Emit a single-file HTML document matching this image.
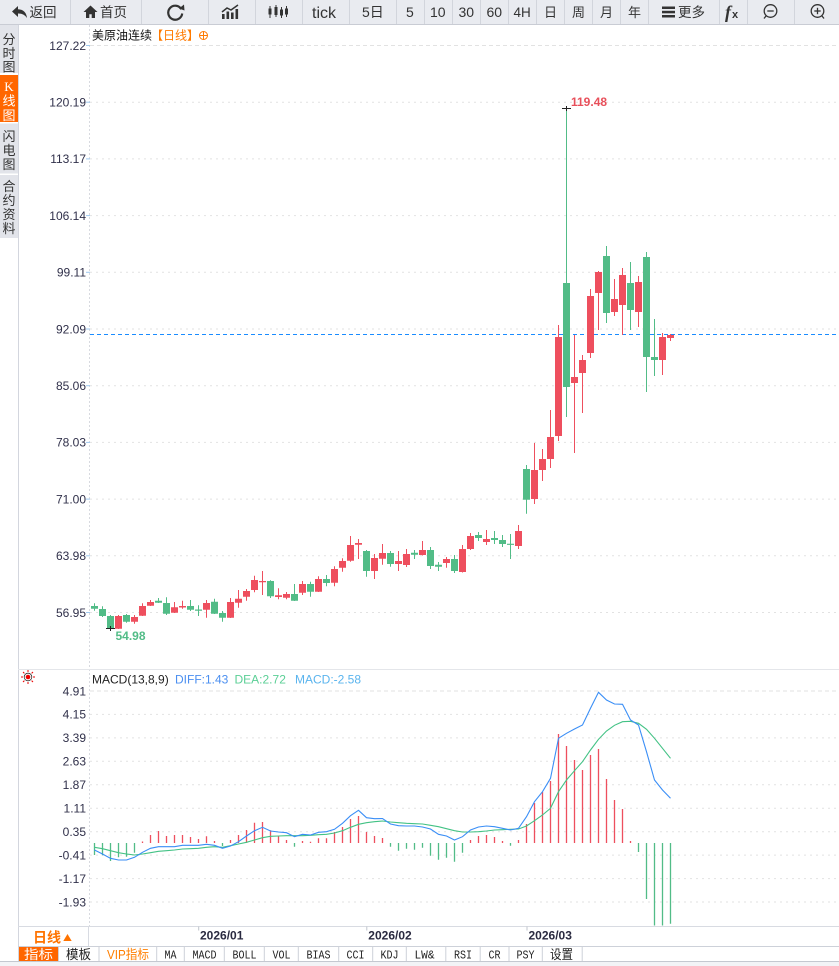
<!DOCTYPE html>
<html><head><meta charset="utf-8"><style>
html,body{margin:0;padding:0;background:#fff;}
body{width:839px;height:966px;overflow:hidden;}
svg{display:block;}
</style></head><body>
<svg width="839" height="966" viewBox="0 0 839 966" xmlns="http://www.w3.org/2000/svg" font-family="'Liberation Sans','Noto Sans CJK SC',sans-serif">
<rect x="0" y="0" width="839" height="966" fill="#fff"/>
<!-- Toolbar -->
<rect x="0" y="0" width="839" height="24" fill="#e9ebf0"/>
<line x1="0" y1="24.5" x2="839" y2="24.5" stroke="#c9ccd4"/>
<g stroke="#d2d5dc" stroke-width="1">
<line x1="70.5" y1="0" x2="70.5" y2="24"/><line x1="141.5" y1="0" x2="141.5" y2="24"/><line x1="208.5" y1="0" x2="208.5" y2="24"/><line x1="255.5" y1="0" x2="255.5" y2="24"/><line x1="302.5" y1="0" x2="302.5" y2="24"/><line x1="349.5" y1="0" x2="349.5" y2="24"/><line x1="396.5" y1="0" x2="396.5" y2="24"/><line x1="424.5" y1="0" x2="424.5" y2="24"/><line x1="452.5" y1="0" x2="452.5" y2="24"/><line x1="480.5" y1="0" x2="480.5" y2="24"/><line x1="508.5" y1="0" x2="508.5" y2="24"/><line x1="536.5" y1="0" x2="536.5" y2="24"/><line x1="564.5" y1="0" x2="564.5" y2="24"/><line x1="592.5" y1="0" x2="592.5" y2="24"/><line x1="620.5" y1="0" x2="620.5" y2="24"/><line x1="648.5" y1="0" x2="648.5" y2="24"/><line x1="719.5" y1="0" x2="719.5" y2="24"/><line x1="747.5" y1="0" x2="747.5" y2="24"/><line x1="794.5" y1="0" x2="794.5" y2="24"/>
</g>
<!-- icons -->
<path d="M18,6 L12,11.5 L18,17 L18,13.5 Q24,13.3 27,18 Q26,9.5 18,9.2 Z" fill="#333"/>
<path d="M90.5,5.5 L83.5,12 H86 V18 H89.3 V14.2 H91.7 V18 H95 V12 H97.5 Z" fill="#333"/>
<path d="M181.3,9.2 A7,7 0 1 0 182.2,13.5" fill="none" stroke="#333" stroke-width="2.2"/>
<path d="M179,8.5 L184,4.5 L184.5,10.5 Z" fill="#333"/>
<g fill="#333"><rect x="222" y="14" width="2.6" height="5"/><rect x="226.5" y="11.5" width="2.6" height="7.5"/><rect x="231" y="12.5" width="2.6" height="6.5"/><rect x="235.5" y="9" width="2.6" height="10"/></g>
<path d="M222,12 L227,8 L231,10 L238,5" fill="none" stroke="#333" stroke-width="1.5"/>
<g fill="#333" stroke="#333"><line x1="270" y1="6" x2="270" y2="18"/><rect x="268.5" y="8.5" width="3" height="6" stroke="none"/><line x1="276" y1="5" x2="276" y2="17"/><rect x="274.5" y="7" width="3" height="8" stroke="none"/><line x1="281.5" y1="7" x2="281.5" y2="18"/><rect x="280" y="9.5" width="3" height="6" stroke="none"/><line x1="286.5" y1="6" x2="286.5" y2="17"/><rect x="285" y="8.5" width="3" height="6" stroke="none"/></g>
<g fill="#333"><rect x="662" y="6.5" width="13" height="2.5"/><rect x="662" y="10.8" width="13" height="2.5"/><rect x="662" y="15" width="13" height="2.5"/></g>
<text x="725" y="18" font-family="'Liberation Serif',serif" font-style="italic" font-weight="bold" font-size="18" fill="#333">f</text>
<text x="732" y="18" font-weight="bold" font-size="11" fill="#333">x</text>
<circle cx="770.5" cy="11" r="6.3" fill="none" stroke="#333" stroke-width="1.3"/><line x1="767.3" y1="11" x2="773.7" y2="11" stroke="#333" stroke-width="1.3"/><line x1="766" y1="16" x2="764" y2="18.5" stroke="#333" stroke-width="1.3"/>
<circle cx="817.5" cy="11" r="6.3" fill="none" stroke="#333" stroke-width="1.3"/><line x1="814.3" y1="11" x2="820.7" y2="11" stroke="#333" stroke-width="1.3"/><line x1="817.5" y1="7.8" x2="817.5" y2="14.2" stroke="#333" stroke-width="1.3"/><line x1="822" y1="16" x2="824" y2="18.5" stroke="#333" stroke-width="1.3"/>
<g fill="#333" font-size="13.5">
<text x="29.5" y="17">返回</text>
<text x="100" y="17">首页</text>
<text x="312" y="18" font-size="16">tick</text>
<text x="362" y="17" font-size="14">5日</text>
<text x="406" y="17" font-size="14">5</text>
<text x="430" y="17" font-size="14">10</text>
<text x="458.5" y="17" font-size="14">30</text>
<text x="486.5" y="17" font-size="14">60</text>
<text x="513.5" y="17" font-size="13.5">4H</text>
<text x="544" y="17" font-size="13">日</text>
<text x="572" y="17" font-size="13">周</text>
<text x="600" y="17" font-size="13">月</text>
<text x="628" y="17" font-size="13">年</text>
<text x="678" y="17">更多</text>
</g>
<!-- Left sidebar -->
<rect x="0" y="25" width="18" height="48" fill="#e2e4ea"/>
<rect x="0" y="75" width="18" height="47" fill="#ff6600"/>
<rect x="0" y="123.5" width="18" height="50" fill="#e2e4ea"/>
<rect x="0" y="175" width="18" height="63" fill="#e2e4ea"/>
<line x1="18.5" y1="25" x2="18.5" y2="962" stroke="#d3d6de"/>
<g font-size="13" fill="#333" text-anchor="middle">
<text x="9" y="44">分</text><text x="9" y="58">时</text><text x="9" y="71.5">图</text>
<text x="9" y="91" fill="#fff" font-family="'Liberation Serif',serif">K</text><text x="9" y="105.5" fill="#fff">线</text><text x="9" y="120" fill="#fff">图</text>
<text x="9" y="141">闪</text><text x="9" y="155">电</text><text x="9" y="169">图</text>
<text x="9" y="191">合</text><text x="9" y="205">约</text><text x="9" y="219">资</text><text x="9" y="233">料</text>
</g>
<!-- Main chart grid -->
<line x1="89.5" y1="25" x2="89.5" y2="926" stroke="#d8dae0" stroke-dasharray="2,2"/>
<line x1="90" y1="45.5" x2="839" y2="45.5" stroke="#e2e2e2" stroke-dasharray="4,3"/>
<g stroke="#e2e2e2" stroke-dasharray="2,4">
<line x1="90" y1="102.2" x2="839" y2="102.2"/><line x1="90" y1="158.9" x2="839" y2="158.9"/><line x1="90" y1="215.6" x2="839" y2="215.6"/><line x1="90" y1="272.3" x2="839" y2="272.3"/><line x1="90" y1="329" x2="839" y2="329"/><line x1="90" y1="385.7" x2="839" y2="385.7"/><line x1="90" y1="442.4" x2="839" y2="442.4"/><line x1="90" y1="499.1" x2="839" y2="499.1"/><line x1="90" y1="555.8" x2="839" y2="555.8"/><line x1="90" y1="612.5" x2="839" y2="612.5"/>
</g>
<g stroke="#9fc9f0"><line x1="86" y1="45.5" x2="90" y2="45.5"/><line x1="86" y1="102.2" x2="90" y2="102.2"/><line x1="86" y1="158.9" x2="90" y2="158.9"/><line x1="86" y1="215.6" x2="90" y2="215.6"/><line x1="86" y1="272.3" x2="90" y2="272.3"/><line x1="86" y1="329" x2="90" y2="329"/><line x1="86" y1="385.7" x2="90" y2="385.7"/><line x1="86" y1="442.4" x2="90" y2="442.4"/><line x1="86" y1="499.1" x2="90" y2="499.1"/><line x1="86" y1="555.8" x2="90" y2="555.8"/><line x1="86" y1="612.5" x2="90" y2="612.5"/></g>
<g font-size="12" fill="#30304a" text-anchor="end">
<text x="86" y="50">127.22</text><text x="86" y="106.5">120.19</text><text x="86" y="163.2">113.17</text><text x="86" y="220">106.14</text><text x="86" y="276.6">99.11</text><text x="86" y="333.3">92.09</text><text x="86" y="390">85.06</text><text x="86" y="446.7">78.03</text><text x="86" y="503.4">71.00</text><text x="86" y="560.1">63.98</text><text x="86" y="616.8">56.95</text>
</g>
<!-- title -->
<text x="92" y="39.5" font-size="12" fill="#111">美原油连续</text>
<text x="151" y="39.5" font-size="12" fill="#ff7a00">【日线】</text>
<circle cx="203.5" cy="35.5" r="4" fill="none" stroke="#ff7a00" stroke-width="1"/><line x1="199.5" y1="35.5" x2="207.5" y2="35.5" stroke="#ff7a00"/><line x1="203.5" y1="31.5" x2="203.5" y2="39.5" stroke="#ff7a00"/>
<!-- last price line -->
<line x1="90" y1="334.5" x2="839" y2="334.5" stroke="#1a8cff" stroke-dasharray="4,3"/>
<!-- candles: green -->
<path fill="none" stroke="#52bc87" stroke-width="1" d="M94.5,603.3V610.7 M102.5,606.3V617 M110.5,615V629 M126.5,614V622.7 M158.5,598V603 M166.5,597.3V615 M190.5,600V611 M198.5,605.3V616 M214.5,598.7V614 M222.5,611V621.7 M270.5,580.3V598 M294.5,584V601 M310.5,581.7V596.7 M326.5,575V586.3 M366.5,550V576.7 M390.5,551V566.7 M414.5,550V559 M430.5,547V569 M438.5,562V571 M454.5,555V573 M478.5,532V541 M494.5,531V544 M502.5,535V547 M510.5,534V559 M526.5,465V513.7 M566.5,108.5V417 M606.5,246V323 M630.5,262V330 M646.5,252V392 M654.5,319V376"/>
<path fill="#52bc87" d="M91,606h7v2.7h-7z M99,609h7v7h-7z M107,616h7v12h-7z M123,615h7v6.7h-7z M155,600.7h7v2h-7z M163,603h7v10.7h-7z M187,606h7v3.7h-7z M195,609.5h7v1.2h-7z M211,601.7h7v12h-7z M219,613h7v4.7h-7z M267,581h7v15.3h-7z M291,594h7v6.7h-7z M307,584h7v7.7h-7z M323,579h7v4h-7z M363,551h7v20h-7z M387,553h7v11h-7z M411,552.7h7v2h-7z M427,550h7v16h-7z M435,564.7h7v2h-7z M451,559h7v12h-7z M475,535h7v3h-7z M491,538h7v2h-7z M499,540h7v4h-7z M507,543.7h7v1.2h-7z M523,469h7v30.7h-7z M563,283h7v104h-7z M603,256h7v57h-7z M627,283h7v27h-7z M643,257h7v100h-7z M651,357h7v3h-7z"/>
<!-- candles: red -->
<path fill="none" stroke="#ee4f5e" stroke-width="1" d="M118.5,615V629 M134.5,615V623.7 M142.5,603.3V616 M150.5,600V606 M174.5,602V613 M182.5,600.7V608.7 M206.5,600V617.7 M230.5,598V618 M238.5,590V607.7 M246.5,589V600.7 M254.5,575.7V592.3 M262.5,571V595 M278.5,588.3V599.3 M286.5,592V599.3 M302.5,581V595 M318.5,576.3V592 M334.5,566.3V586.3 M342.5,558.3V571.7 M350.5,536V561.7 M358.5,539V559 M374.5,554V579 M382.5,544V564.7 M398.5,551V571 M406.5,549V567 M422.5,541V555.5 M446.5,557V567.7 M462.5,545V572.5 M470.5,533V550 M486.5,530V545 M518.5,525V549 M534.5,443V504 M542.5,449V481 M550.5,410V468 M558.5,325V441 M574.5,335V453 M582.5,355V413 M590.5,289V358 M598.5,271V330 M614.5,279V316 M622.5,268V335 M638.5,276V327 M662.5,333V375 M670.5,334V341"/>
<path fill="#ee4f5e" d="M115,616h7v12.7h-7z M131,617h7v4.7h-7z M139,606h7v9.7h-7z M147,602h7v3.7h-7z M171,607.3h7v5.4h-7z M179,606h7v1.5h-7z M203,603h7v6.7h-7z M227,602h7v15.7h-7z M235,598.7h7v4h-7z M243,591h7v5.7h-7z M251,580h7v10h-7z M259,581h7v1.3h-7z M275,595.3h7v1.7h-7z M283,594h7v3.7h-7z M299,584h7v8.7h-7z M315,579h7v12.7h-7z M331,569h7v13.7h-7z M339,561h7v6.7h-7z M347,545h7v15.7h-7z M355,543h7v1.7h-7z M371,558h7v13h-7z M379,553h7v5.7h-7z M395,561h7v3h-7z M403,554h7v11h-7z M419,550h7v5h-7z M443,559h7v4h-7z M459,549h7v23h-7z M467,536h7v13h-7z M483,539h7v3h-7z M515,531h7v15h-7z M531,470h7v29h-7z M539,459h7v11h-7z M547,437h7v22h-7z M555,337h7v99h-7z M571,377h7v6h-7z M579,360h7v13h-7z M587,296h7v57h-7z M595,272h7v21h-7z M611,299h7v13h-7z M619,275h7v30h-7z M635,282h7v30h-7z M659,337h7v23h-7z M667,335h7v3h-7z"/>
<!-- high/low markers -->
<line x1="562" y1="108.5" x2="571" y2="108.5" stroke="#222"/><line x1="566.5" y1="106" x2="566.5" y2="111" stroke="#222"/>
<text x="571" y="106" font-size="12" font-weight="bold" fill="#e8505b">119.48</text>
<line x1="106" y1="628.5" x2="115" y2="628.5" stroke="#222"/><line x1="110.5" y1="626" x2="110.5" y2="631" stroke="#222"/>
<text x="115.5" y="640" font-size="12" font-weight="bold" fill="#52bc87">54.98</text>
<!-- separator main / MACD -->
<line x1="18" y1="669.5" x2="839" y2="669.5" stroke="#e4e6ea"/>
<!-- MACD panel -->
<g transform="translate(28,677)">
<circle r="2.3" fill="#e00"/><circle r="3.8" fill="none" stroke="#333" stroke-width="0.8"/>
<g stroke="#e00" stroke-width="1"><line x1="0" y1="-7" x2="0" y2="-5"/><line x1="0" y1="5" x2="0" y2="7"/><line x1="-7" y1="0" x2="-5" y2="0"/><line x1="5" y1="0" x2="7" y2="0"/><line x1="-5" y1="-5" x2="-3.6" y2="-3.6"/><line x1="5" y1="5" x2="3.6" y2="3.6"/><line x1="-5" y1="5" x2="-3.6" y2="3.6"/><line x1="5" y1="-5" x2="3.6" y2="-3.6"/></g>
</g>
<text x="92" y="683.5" font-size="12" fill="#222">MACD(13,8,9)</text>
<text x="175" y="683.5" font-size="12" fill="#4b8ff0">DIFF:1.43</text>
<text x="234.5" y="683.5" font-size="12" fill="#5bcf96">DEA:2.72</text>
<text x="295" y="683.5" font-size="12" fill="#5ab4ee">MACD:-2.58</text>
<line x1="90" y1="691" x2="839" y2="691" stroke="#e2e2e2" stroke-dasharray="4,3"/>
<g stroke="#e2e2e2" stroke-dasharray="2,4">
<line x1="90" y1="714.4" x2="839" y2="714.4"/><line x1="90" y1="737.9" x2="839" y2="737.9"/><line x1="90" y1="761.3" x2="839" y2="761.3"/><line x1="90" y1="784.8" x2="839" y2="784.8"/><line x1="90" y1="808.2" x2="839" y2="808.2"/><line x1="90" y1="831.7" x2="839" y2="831.7"/><line x1="90" y1="855.1" x2="839" y2="855.1"/><line x1="90" y1="878.6" x2="839" y2="878.6"/><line x1="90" y1="902" x2="839" y2="902"/>
</g>
<g font-size="12" fill="#30304a" text-anchor="end">
<text x="86" y="695.3">4.91</text><text x="86" y="718.7">4.15</text><text x="86" y="742.2">3.39</text><text x="86" y="765.6">2.63</text><text x="86" y="789.1">1.87</text><text x="86" y="812.5">1.11</text><text x="86" y="836">0.35</text><text x="86" y="859.4">-0.41</text><text x="86" y="882.9">-1.17</text><text x="86" y="906.3">-1.93</text>
</g>
<!-- histogram -->
<path fill="none" stroke="#ee4f5e" stroke-width="1.3" d="M142.5,843V841.5 M150.5,843V835 M158.5,843V831 M166.5,843V836 M174.5,843V835 M182.5,843V835 M190.5,843V837 M198.5,843V839 M206.5,843V836.3 M214.5,843V841 M230.5,843V840 M238.5,843V835 M246.5,843V830 M254.5,843V822.7 M262.5,843V822 M270.5,843V830.3 M278.5,843V836 M286.5,843V840 M302.5,843V841 M310.5,843V841.8 M318.5,843V838.3 M326.5,843V838.3 M334.5,843V832 M342.5,843V827 M350.5,843V819 M358.5,843V816 M366.5,843V832 M374.5,843V836 M382.5,843V838 M470.5,843V840 M478.5,843V836 M486.5,843V835 M494.5,843V837 M502.5,843V841 M518.5,843V840 M526.5,843V824 M534.5,843V803 M542.5,843V792 M550.5,843V781 M558.5,843V734 M566.5,843V746 M574.5,843V760 M582.5,843V770 M590.5,843V755 M598.5,843V749 M606.5,843V779 M614.5,843V800 M622.5,843V809 M630.5,843V841"/>
<path fill="none" stroke="#52bc87" stroke-width="1.3" d="M94.5,843V855 M102.5,843V855.3 M110.5,843V861 M118.5,843V857.3 M126.5,843V856.7 M134.5,843V852.7 M222.5,843V846 M294.5,843V846.7 M390.5,843V846.7 M398.5,843V850.7 M406.5,843V848.7 M414.5,843V849.7 M422.5,843V847.7 M430.5,843V855.7 M438.5,843V859.7 M446.5,843V857.7 M454.5,843V861.7 M462.5,843V852.7 M510.5,843V845.7 M638.5,843V852 M646.5,843V899 M654.5,843V925.5 M662.5,843V925.5 M670.5,843V923.7"/>
<!-- DEA -->
<polyline fill="none" stroke="#43c285" stroke-width="1.1" points="94.5,847.3 102.5,848.7 110.5,850.7 118.5,852.7 126.5,854 134.5,855 142.5,854 150.5,852.7 158.5,851.3 166.5,850.7 174.5,850 182.5,849 190.5,848.7 198.5,848.3 206.5,847.3 214.5,846.7 222.5,847.3 230.5,845.7 238.5,844 246.5,842.3 254.5,840 262.5,837.7 270.5,836.3 278.5,836 286.5,835.7 294.5,835.7 302.5,835.7 310.5,835.3 318.5,834.7 326.5,834.3 334.5,833 342.5,830.7 350.5,827.3 358.5,824.3 366.5,822.7 374.5,821.7 382.5,821 390.5,822 398.5,822.7 406.5,823.3 414.5,823.7 422.5,824 430.5,825.3 438.5,826.7 446.5,828.7 454.5,830.7 462.5,832 470.5,832 478.5,831.7 486.5,831 494.5,830 502.5,829.7 510.5,829.3 518.5,829 526.5,826 534.5,820.7 542.5,815 550.5,808.3 558.5,791.7 566.5,780 574.5,770.7 582.5,761.7 590.5,750 598.5,739.3 606.5,731 614.5,725.3 622.5,721.7 630.5,721.3 638.5,723.3 646.5,729.3 654.5,738.3 662.5,748.3 670.5,758.3"/>
<!-- DIFF -->
<polyline fill="none" stroke="#3a8ef6" stroke-width="1.1" points="94.5,850 102.5,854 110.5,858.3 118.5,860 126.5,860 134.5,857.3 142.5,852.3 150.5,848.3 158.5,846.7 166.5,846.7 174.5,846.7 182.5,845.3 190.5,845.3 198.5,845.3 206.5,844.3 214.5,845.3 222.5,848.3 230.5,846 238.5,841.7 246.5,836 254.5,830.7 262.5,827.3 270.5,831 278.5,832 286.5,832.7 294.5,836.7 302.5,834.3 310.5,835 318.5,832.3 326.5,831.7 334.5,829.3 342.5,823.3 350.5,815.7 358.5,810.3 366.5,817.7 374.5,818.7 382.5,818.5 390.5,824 398.5,825.7 406.5,826 414.5,826 422.5,827 430.5,829 438.5,834.3 446.5,836 454.5,840 462.5,836.7 470.5,830 478.5,827 486.5,826 494.5,826.7 502.5,828.3 510.5,830 518.5,828.3 526.5,816.7 534.5,801.7 542.5,791.7 550.5,778.3 558.5,738.3 566.5,733.3 574.5,729 582.5,725 590.5,708.3 598.5,692.3 606.5,700 614.5,704 622.5,704.3 630.5,720 638.5,725 646.5,751.7 654.5,780 662.5,790 670.5,798.3"/>
<!-- Date row -->
<line x1="18" y1="926.5" x2="839" y2="926.5" stroke="#d8dbe2"/>
<line x1="88.5" y1="926" x2="88.5" y2="946" stroke="#d8dbe2"/>
<text x="33" y="942.5" font-size="14" font-weight="bold" fill="#ff7300">日线</text>
<path d="M63.3,941 L67.5,934 L71.7,941 Z" fill="#ff7300"/>
<g stroke="#c0c4cc"><line x1="198.7" y1="926.5" x2="198.7" y2="930.5"/><line x1="366.8" y1="926.5" x2="366.8" y2="930.5"/><line x1="527" y1="926.5" x2="527" y2="930.5"/></g>
<g font-size="12" font-weight="bold" fill="#2a2a40">
<text x="200" y="939.5">2026/01</text><text x="368.3" y="939.5">2026/02</text><text x="528.5" y="939.5">2026/03</text>
</g>
<!-- Tab row -->
<line x1="18" y1="946.5" x2="839" y2="946.5" stroke="#cdd1d9"/>
<rect x="19" y="947" width="39.3" height="14" fill="#ff6600"/>
<g stroke="#cdd1d9"><line x1="58.5" y1="947" x2="58.5" y2="961"/><line x1="99" y1="947" x2="99" y2="961"/><line x1="156.7" y1="947" x2="156.7" y2="961"/><line x1="184.3" y1="947" x2="184.3" y2="961"/><line x1="224.3" y1="947" x2="224.3" y2="961"/><line x1="264.3" y1="947" x2="264.3" y2="961"/><line x1="298.3" y1="947" x2="298.3" y2="961"/><line x1="338.7" y1="947" x2="338.7" y2="961"/><line x1="372.7" y1="947" x2="372.7" y2="961"/><line x1="406.3" y1="947" x2="406.3" y2="961"/><line x1="445.8" y1="947" x2="445.8" y2="961"/><line x1="480.2" y1="947" x2="480.2" y2="961"/><line x1="509" y1="947" x2="509" y2="961"/><line x1="542.3" y1="947" x2="542.3" y2="961"/><line x1="582.2" y1="947" x2="582.2" y2="961"/></g>
<g font-size="13" fill="#222">
<text x="24" y="959" fill="#fff" textLength="29" lengthAdjust="spacingAndGlyphs">指标</text>
<text x="66" y="959" textLength="25" lengthAdjust="spacingAndGlyphs">模板</text>
<text x="107" y="959" fill="#ff7f00" textLength="42" lengthAdjust="spacingAndGlyphs">VIP指标</text>
</g>
<g font-size="12" fill="#222" font-family="'Liberation Mono',monospace">
<text x="164.5" y="958.5" textLength="12" lengthAdjust="spacingAndGlyphs">MA</text>
<text x="192.5" y="958.5" textLength="24" lengthAdjust="spacingAndGlyphs">MACD</text>
<text x="232.5" y="958.5" textLength="24" lengthAdjust="spacingAndGlyphs">BOLL</text>
<text x="272.5" y="958.5" textLength="18" lengthAdjust="spacingAndGlyphs">VOL</text>
<text x="306.5" y="958.5" textLength="24" lengthAdjust="spacingAndGlyphs">BIAS</text>
<text x="346.5" y="958.5" textLength="18" lengthAdjust="spacingAndGlyphs">CCI</text>
<text x="380.5" y="958.5" textLength="18" lengthAdjust="spacingAndGlyphs">KDJ</text>
<text x="414.5" y="958.5" textLength="20" lengthAdjust="spacingAndGlyphs">LW&amp;</text>
<text x="454" y="958.5" textLength="18" lengthAdjust="spacingAndGlyphs">RSI</text>
<text x="488.5" y="958.5" textLength="12" lengthAdjust="spacingAndGlyphs">CR</text>
<text x="516.5" y="958.5" textLength="18" lengthAdjust="spacingAndGlyphs">PSY</text>
</g>
<text x="550" y="959" font-size="13" fill="#222" textLength="23" lengthAdjust="spacingAndGlyphs">设置</text>
<line x1="0" y1="961.5" x2="839" y2="961.5" stroke="#c4c8d0"/>
<rect x="0" y="962" width="839" height="4" fill="#f2f3f6"/>
</svg>
</body></html>
